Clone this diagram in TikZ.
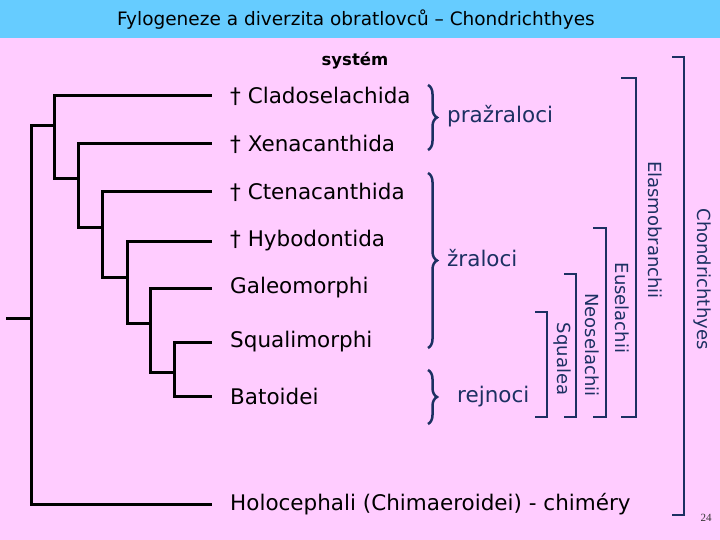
\documentclass[tikz,border=0pt]{standalone}
\usepackage{fontspec}
\setmainfont{DejaVu Sans}
\newfontfamily\pagefont{Liberation Serif}
\usetikzlibrary{decorations.pathreplacing}
\definecolor{slidepink}{RGB}{255,204,255}
\definecolor{bandblue}{RGB}{102,204,255}
\definecolor{cladenavy}{RGB}{28,48,98}
\tikzset{
  leaf/.style={anchor=west, inner sep=0pt, font=\fontsize{21.5}{25}\selectfont},
  branch/.style={draw=black, line width=3pt, line cap=rect},
  group/.style={anchor=west, inner sep=0pt, text=cladenavy,
    font=\fontsize{21.5}{25}\selectfont},
  grpbrace/.style={draw=cladenavy, line width=2.5pt,
    decorate, decoration={brace, amplitude=9pt}},
  bracket/.style={draw=cladenavy, line width=2.8pt},
  clade/.style={rotate=-90, inner sep=0pt, text=cladenavy,
    font=\fontsize{18}{21}\selectfont}
}

\begin{document}
\begin{tikzpicture}[x=1pt, y=-1pt]

%% ── Slide background ───────────────────────────────────
\useasboundingbox (0,0) rectangle (720,540);
\fill[slidepink] (0,0) rectangle (720,540);
\fill[bandblue]  (0,0) rectangle (720,38);
\node[font=\fontsize{18.5}{21}\selectfont] (title) at (356,20)
  {Fylogeneze a diverzita obratlovců – Chondrichthyes};
\node[font=\bfseries\fontsize{16.5}{19}\selectfont] (system) at (355,61) {systém};

%% ── Leaf labels ────────────────────────────────────────
\node[leaf] (clado) at (230, 96) {† Cladoselachida};
\node[leaf] (xena)  at (230,144) {† Xenacanthida};
\node[leaf] (cten)  at (230,192) {† Ctenacanthida};
\node[leaf] (hybo)  at (230,241) {† Hybodontida};
\node[leaf] (galeo) at (230,288) {Galeomorphi};
\node[leaf] (squa)  at (230,342) {Squalimorphi};
\node[leaf] (bato)  at (230,396) {Batoidei};
\node[leaf] (holo)  at (230,504) {Holocephali (Chimaeroidei) - chiméry};

%% ── Tree: tips and inner nodes ─────────────────────────
\coordinate (tclado) at (210, 96);
\coordinate (txena)  at (210,144);
\coordinate (tcten)  at (210,192);
\coordinate (thybo)  at (210,241);
\coordinate (tgaleo) at (210,288);
\coordinate (tsqua)  at (210,342);
\coordinate (tbato)  at (210,396);
\coordinate (tholo)  at (210,504);

\coordinate (root)  at ( 31,126);
\coordinate (stub)  at (  7,318);
\coordinate (n1)    at ( 54,126);
\coordinate (n2)    at ( 78,179);
\coordinate (n3)    at (102,228);
\coordinate (n4)    at (127,277);
\coordinate (n5)    at (150,323);
\coordinate (n6)    at (174,372);

\draw[branch] (n1) -- (root) |- (tholo);
\draw[branch] (stub) -- (stub -| root);
\draw[branch] (tclado) -| (n1) |- (n2);
\draw[branch] (txena)  -| (n2) |- (n3);
\draw[branch] (tcten)  -| (n3) |- (n4);
\draw[branch] (thybo)  -| (n4) |- (n5);
\draw[branch] (tgaleo) -| (n5) |- (n6);
\draw[branch] (tsqua)  -| (n6) |- (tbato);

%% ── Braces with group names ────────────────────────────
\draw[grpbrace] (428, 85) -- (428,150);
\draw[grpbrace] (428,173) -- (428,348);
\draw[grpbrace] (428,370) -- (428,424);
\node[group] (prazr) at (447,116) {pražraloci};
\node[group] (zral)  at (447,258) {žraloci};
\node[group] (rejn)  at (457,397) {rejnoci};

%% ── Nested clade brackets ──────────────────────────────
\draw[bracket] (535,312) -| (547,417) -- (535,417);   % Squalea
\draw[bracket] (564,274) -| (576,417) -- (564,417);   % Neoselachii
\draw[bracket] (593,228) -| (606,417) -- (593,417);   % Euselachii
\draw[bracket] (621, 78) -| (636,417) -- (621,417);   % Elasmobranchii
\draw[bracket] (672, 57) -| (684,515) -- (672,515);   % Chondrichthyes
\node[clade] (squalea) at (562,359) {Squalea};
\node[clade] (neosel)  at (592,345) {Neoselachii};
\node[clade] (eusel)   at (622,308) {Euselachii};
\node[clade] (elasmo)  at (655,230) {Elasmobranchii};
\node[clade] (chondr)  at (702,279) {Chondrichthyes};

%% ── Slide number ───────────────────────────────────────
\node[font=\pagefont\fontsize{11}{13}\selectfont, text=black!80] (pgnum) at (706,518) {24};

\end{tikzpicture}
\end{document}
